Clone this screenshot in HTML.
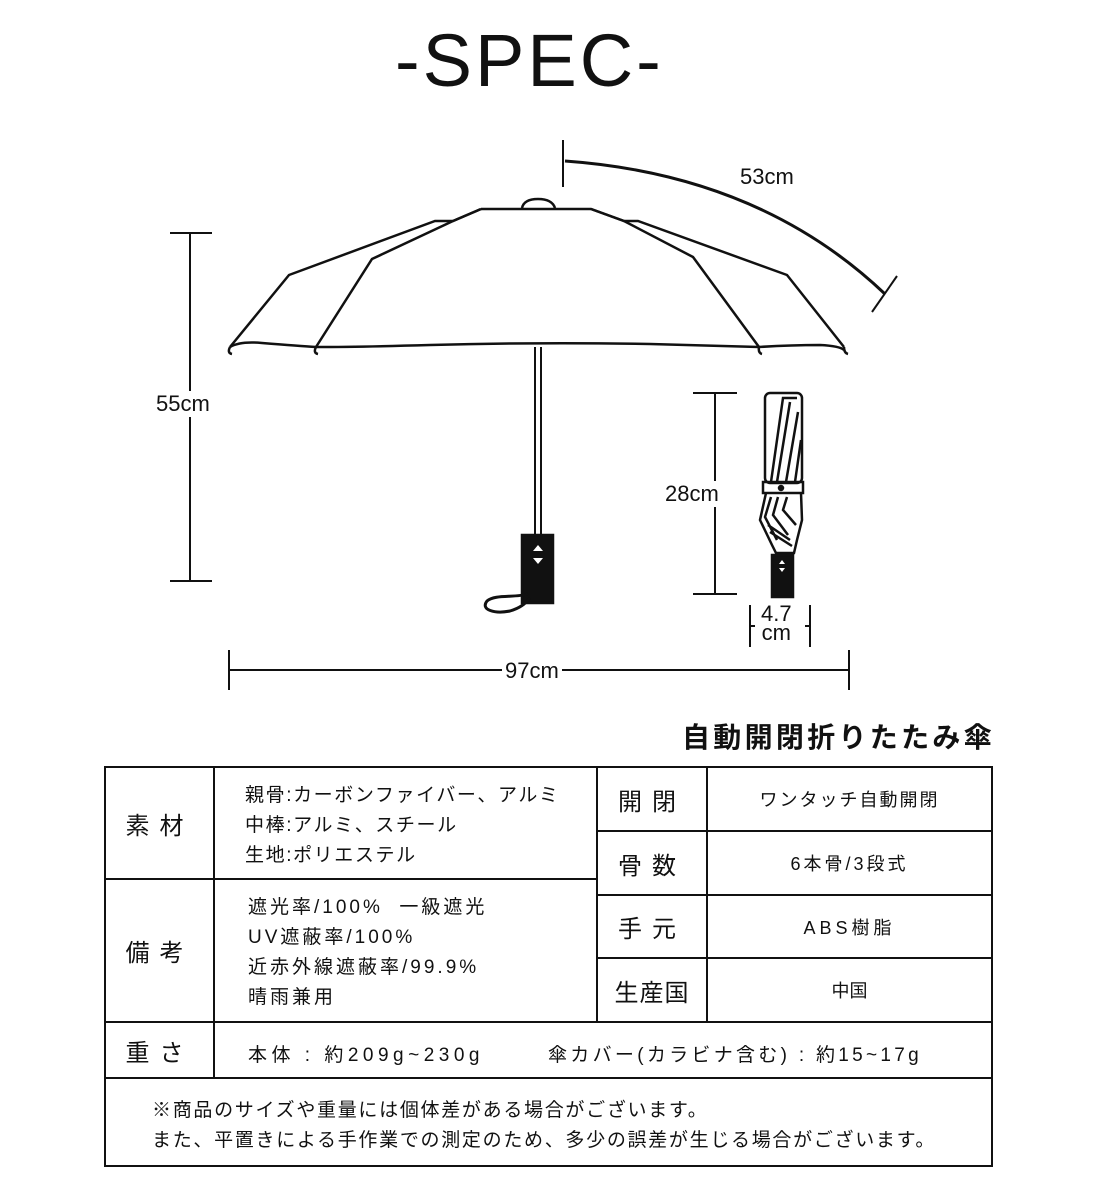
<!DOCTYPE html>
<html><head><meta charset="utf-8"><style>
body{margin:0;width:1100px;height:1200px;background:#fff;position:relative;overflow:hidden;font-family:"Liberation Sans","Noto Sans CJK JP",sans-serif;color:#111}
.t{position:absolute;white-space:nowrap}
.c{position:absolute;display:flex;align-items:center;justify-content:center;text-align:center}
</style></head><body>
<svg width="1100" height="1200" style="position:absolute;left:0;top:0" fill="none" stroke="#111" stroke-width="2.5">
<path d="M522 208 Q524 199 538 199 Q552 199 555 208"/>
<path d="M481 209 L591 209 L624 221 L693 257 L759 347"/>
<path d="M591 209 L624 221 L638 221 L787 275 L844 347"/>
<path d="M481 209 L453 221 L372 259 L316 347"/>
<path d="M481 209 L453 221 L435 221 L289 275 L230 347"/>
<path d="M230 347 Q240 341 262 343 Q300 346 316 347 Q360 347 430 345 Q540 342 650 344 Q720 346 759 347 Q790 345 820 345 Q840 346 844 350"/>
<path d="M230 347 q-3 6 2 7 M316 347 q-3 6 2 7 M759 347 q-1 6 3 7 M844 347 q0 6 4 7"/>
<path d="M535 347 V535 M541 347 V535" stroke-width="2"/>
<rect x="522" y="535" width="31" height="68" fill="#111"/>
<path d="M538 545 l-5 6 h10z M538 564 l-5 -6 h10z" fill="#fff" stroke="none"/>
<path d="M528 594 C515 598 495 594 487 601 C480 610 495 614 510 611 C520 608 525 604 530 598" stroke-width="3"/>
<path d="M190 233 V581 M170 233 H212 M170 581 H212" stroke-width="2"/>
<path d="M715 393 V594 M693 393 H737 M693 594 H737" stroke-width="2"/>
<path d="M229 670 H849 M229 650 V690 M849 650 V690" stroke-width="2"/>
<path d="M563 140 V187" stroke-width="2"/>
<path d="M565 161 Q760 175 885 294" stroke-width="3"/>
<path d="M872 312 L897 276" stroke-width="2"/>
<path d="M750 605 V647 M810 605 V647 M750 626 h5 M810 626 h-5" stroke-width="2"/>
<rect x="765" y="393" width="37" height="90" rx="5"/>
<path d="M771 482 L783 398 L797 398 M777 482 L790 402 M786 482 L798 412 M795 482 L801 440"/>
<rect x="763" y="482" width="40" height="11"/>
<circle cx="781" cy="488" r="2" fill="#111"/>
<path d="M766 493 L760 520 L772 545 L776 553 H794 L797 540 L802 520 L801 493"/>
<path d="M771 497 L765 517 L777 540 M778 497 L773 515 L788 535 M787 497 L783 510 L796 525 M768 525 L790 540 M770 532 L792 546"/>
<rect x="772" y="555" width="21" height="42" fill="#111"/>
<path d="M782 560 l-3 4 h6z M782 572 l-3 -4 h6z" fill="#fff" stroke="none"/>
<rect x="105" y="767" width="887" height="399" stroke-width="2"/>
<path d="M214 767 V1078 M597 767 V1022 M707 767 V1022 M105 879 H597 M105 1022 H992 M105 1078 H992 M597 831 H992 M597 895 H992 M597 958 H992" stroke-width="2"/>
</svg>
<div class="t" style="left:395px;top:18px;font-size:74px;letter-spacing:3px">-SPEC-</div>
<div class="t" style="left:156px;top:391px;font-size:22px;background:#fff">55cm</div>
<div class="t" style="left:740px;top:164px;font-size:22px">53cm</div>
<div class="t" style="left:665px;top:481px;font-size:22px;background:#fff">28cm</div>
<div class="t" style="left:502px;top:658px;font-size:22px;background:#fff;padding:0 3px">97cm</div>
<div class="t" style="left:761px;top:604px;font-size:22px;line-height:19px;text-align:center">4.7<br>cm</div>
<div class="t" style="left:682px;top:716px;font-size:28px;font-weight:bold;letter-spacing:3.3px">自動開閉折りたたみ傘</div>
<div class="c" style="left:105px;top:767px;width:109px;height:112px;font-size:24px;letter-spacing:10px">素材</div>
<div class="c" style="left:105px;top:879px;width:109px;height:143px;font-size:24px;letter-spacing:10px">備考</div>
<div class="c" style="left:105px;top:1022px;width:109px;height:56px;font-size:24px;letter-spacing:10px">重さ</div>
<div class="t" style="left:245px;top:781px;font-size:19px;line-height:30px;letter-spacing:1.6px">親骨:カーボンファイバー、アルミ<br>中棒:アルミ、スチール<br>生地:ポリエステル</div>
<div class="t" style="left:248px;top:893px;font-size:19px;line-height:30px;letter-spacing:3px">遮光率/100%&nbsp; 一級遮光<br>UV遮蔽率/100%<br>近赤外線遮蔽率/99.9%<br>晴雨兼用</div>
<div class="c" style="left:597px;top:767px;width:110px;height:64px;font-size:24px;letter-spacing:10px">開閉</div>
<div class="c" style="left:597px;top:831px;width:110px;height:64px;font-size:24px;letter-spacing:10px">骨数</div>
<div class="c" style="left:597px;top:895px;width:110px;height:63px;font-size:24px;letter-spacing:10px">手元</div>
<div class="c" style="left:597px;top:958px;width:110px;height:64px;font-size:24px;letter-spacing:1px">生産国</div>
<div class="c" style="left:707px;top:767px;width:285px;height:64px;font-size:18px;letter-spacing:2px">ワンタッチ自動開閉</div>
<div class="c" style="left:707px;top:831px;width:285px;height:64px;font-size:18px;letter-spacing:3px">6本骨/3段式</div>
<div class="c" style="left:707px;top:895px;width:285px;height:63px;font-size:18px;letter-spacing:4px">ABS樹脂</div>
<div class="c" style="left:707px;top:958px;width:285px;height:64px;font-size:18px">中国</div>
<div class="t" style="left:248px;top:1040px;font-size:19px;letter-spacing:4.5px">本体 : 約209g~230g</div>
<div class="t" style="left:548px;top:1040px;font-size:19px;letter-spacing:3.3px">傘カバー(カラビナ含む) : 約15~17g</div>
<div class="t" style="left:152px;top:1096px;font-size:19px;line-height:30px;letter-spacing:1.7px">※商品のサイズや重量には個体差がある場合がございます。<br>また、平置きによる手作業での測定のため、多少の誤差が生じる場合がございます。</div>
</body></html>
